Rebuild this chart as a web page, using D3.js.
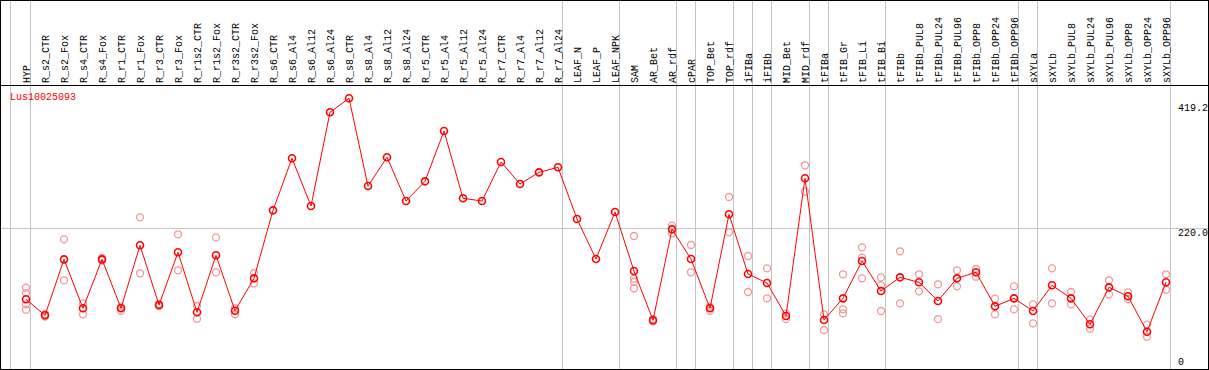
<!DOCTYPE html>
<html>
<head>
<meta charset="utf-8">
<script src="https://cdn.jsdelivr.net/npm/d3@7"></script>
<style>
    body { margin: 0; background: #fff; }
    svg text { font-family: "Liberation Mono", "DejaVu Sans Mono", monospace; font-size: 10px; }
</style>
</head>
<body>
<div class="svg-content"></div>
<script>

//--- Data ------------------------------------------------------------------------------------------------   //

var geneName = "Lus10025093";

var categories = ["HYP", "R_s2_CTR", "R_s2_Fox", "R_s4_CTR", "R_s4_Fox", "R_r1_CTR", "R_r1_Fox", "R_r3_CTR",
    "R_r3_Fox", "R_r1s2_CTR", "R_r1s2_Fox", "R_r3s2_CTR", "R_r3s2_Fox", "R_s6_CTR", "R_s6_Al4", "R_s6_Al12",
    "R_s6_Al24", "R_s8_CTR", "R_s8_Al4", "R_s8_Al12", "R_s8_Al24", "R_r5_CTR", "R_r5_Al4", "R_r5_Al12",
    "R_r5_Al24", "R_r7_CTR", "R_r7_Al4", "R_r7_Al12", "R_r7_Al24", "LEAF_N", "LEAF_P", "LEAF_NPK", "SAM",
    "AR_Bet", "AR_rdf", "cPAR", "TOP_Bet", "TOP_rdf", "iFIBa", "iFIBb", "MID_Bet", "MID_rdf", "tFIBa",
    "tFIB_Gr", "tFIB_Li", "tFIB_Bi", "tFIBb", "tFIBb_PUL8", "tFIBb_PUL24", "tFIBb_PUL96", "tFIBb_OPP8",
    "tFIBb_OPP24", "tFIBb_OPP96", "sXYLa", "sXYLb", "sXYLb_PUL8", "sXYLb_PUL24", "sXYLb_PUL96", "sXYLb_OPP8",
    "sXYLb_OPP24", "sXYLb_OPP96"];

// mean expression per sample
var means = [106.7, 81.2, 170.2, 92.4, 170.2, 92.4, 192.5, 97.6, 181.4, 86.0, 176.6, 88.5, 140.0,
    248.1, 330.8, 255.0, 403.9, 426.2, 286.8, 332.4, 262.9, 294.2, 374.2, 267.2, 262.9, 324.9, 289.9,
    308.5, 316.5, 234.3, 170.7, 245.4, 151.6, 73.3, 217.9, 170.7, 92.4, 241.8, 146.9, 132.6, 80.1,
    299.0, 73.8, 108.2, 167.5, 119.9, 141.6, 133.7, 104.0, 140.0, 149.6, 95.5, 108.2, 88.1, 128.9,
    108.2, 66.9, 125.7, 111.4, 55.2, 133.7];

// single replicates per sample
var replicates = [
    [125.1, 116.6, 98.7, 90.1], [83.3, 79.3], [202.0, 136.9], [100.3, 82.8], [172.3, 168.3],
    [94.9, 88.5], [237.0, 148.0], [99.2, 96.0], [210.0, 152.8], [96.0, 75.8], [205.2, 149.6],
    [92.4, 82.8], [148.5, 132.1],
    [], [], [], [], [], [], [], [], [], [], [], [], [], [], [], [], [], [], [],
    [207.3, 139.4, 134.6, 124.1], [75.3, 71.4], [223.7, 211.6], [193.0, 149.6], [94.9, 88.5],
    [269.3, 213.2], [175.5, 118.3], [155.9, 108.2], [83.8, 75.3], [319.7, 277.7], [82.8, 57.9],
    [146.4, 90.8, 84.4], [189.3, 172.8, 140.0], [141.6, 128.9, 88.1], [183.0, 100.3], [146.4, 119.4],
    [130.5, 75.3], [152.8, 127.3], [154.8, 142.6], [107.6, 82.8], [127.3, 90.8], [98.7, 68.5],
    [155.9, 100.3], [118.3, 98.7], [74.2, 59.9], [136.9, 114.6], [117.8, 107.1], [66.3, 47.2],
    [146.4, 121.9]];

// index of last sample in each group (-1 = left edge)
var groupEnds = [-1, 0, 28, 31, 34, 35, 37, 38, 39, 41, 42, 45, 52, 53, 60];

var tickValues = [0, 220.0, 419.2];
var tickLabels = ["0", "220.0", "419.2"];


//--- Chart -----------------------------------------------------------------------------------------------   //

var width = 1209;
var height = 370;
var headerBottom = 85;

var svg = d3.select(".svg-content")
    .append("svg")
    .attr("width", width)
    .attr("height", height);

var x = d3.scaleBand()
    .domain(categories)
    .range([16.5, 16.5 + 19 * categories.length]);

var y = d3.scaleLinear()
    .domain([0, 419.2])
    .range([366.4, 102.7]);

function cx(i) {
    return x.range()[0] + x.bandwidth() / 2 + i * x.step();
}

// gridline at the middle tick
svg.append("line")
    .attr("x1", 0).attr("x2", width)
    .attr("y1", Math.floor(y(220)) + 0.5).attr("y2", Math.floor(y(220)) + 0.5)
    .attr("stroke", "#c4c4c4");

// group separators
svg.selectAll(".sep")
    .data(groupEnds)
    .enter()
    .append("line")
    .attr("class", "sep")
    .attr("x1", function(d) { return d < 0 ? 10.5 : Math.floor(cx(d) + 4.5) + 0.5; })
    .attr("x2", function(d) { return d < 0 ? 10.5 : Math.floor(cx(d) + 4.5) + 0.5; })
    .attr("y1", 0).attr("y2", height)
    .attr("stroke", "#c4c4c4");

// header separator and frame
svg.append("line")
    .attr("x1", 0).attr("x2", width)
    .attr("y1", headerBottom + 0.5).attr("y2", headerBottom + 0.5)
    .attr("stroke", "#000");

svg.append("rect")
    .attr("x", 0.5).attr("y", 0.5)
    .attr("width", width - 1).attr("height", height - 1)
    .attr("fill", "none")
    .attr("stroke", "#000");

// sample names
svg.selectAll(".catlabel")
    .data(categories)
    .enter()
    .append("text")
    .attr("class", "catlabel")
    .attr("transform", function(d) {
        return "translate(" + (x(d) + x.bandwidth() / 2 + 3.5) + "," + (headerBottom - 2) + ") rotate(-90)";
    })
    .attr("fill", "#000")
    .text(function(d) { return d; });

// right side tick labels
svg.selectAll(".ticklabel")
    .data(tickValues)
    .enter()
    .append("text")
    .attr("class", "ticklabel")
    .attr("x", 1178)
    .attr("y", function(d) { return Math.min(y(d) + 8, height - 5); })
    .attr("fill", "#000")
    .text(function(d, i) { return tickLabels[i]; });

// gene name
svg.append("text")
    .attr("x", 10)
    .attr("y", 100)
    .attr("fill", "#ff0000")
    .text(geneName);

// replicate points
var repPoints = [];
replicates.forEach(function(list, i) {
    list.forEach(function(v) { repPoints.push({i: i, v: v}); });
});

svg.selectAll(".rep")
    .data(repPoints)
    .enter()
    .append("circle")
    .attr("class", "rep")
    .attr("cx", function(d) { return x(categories[d.i]) + x.bandwidth() / 2; })
    .attr("cy", function(d) { return y(d.v); })
    .attr("r", 3.5)
    .attr("fill", "none")
    .attr("stroke", "#f09a9a")
    .attr("stroke-width", 1.3);

// mean line
var line = d3.line()
    .x(function(d, i) { return x(categories[i]) + x.bandwidth() / 2; })
    .y(function(d) { return y(d); });

svg.append("path")
    .datum(means)
    .attr("d", line)
    .attr("fill", "none")
    .attr("stroke", "#ff0000")
    .attr("stroke-width", 1);

svg.selectAll(".mean")
    .data(means)
    .enter()
    .append("circle")
    .attr("class", "mean")
    .attr("cx", function(d, i) { return x(categories[i]) + x.bandwidth() / 2; })
    .attr("cy", function(d) { return y(d); })
    .attr("r", 3.5)
    .attr("fill", "none")
    .attr("stroke", "#ff0000")
    .attr("stroke-width", 1.6);

</script>
</body>
</html>
